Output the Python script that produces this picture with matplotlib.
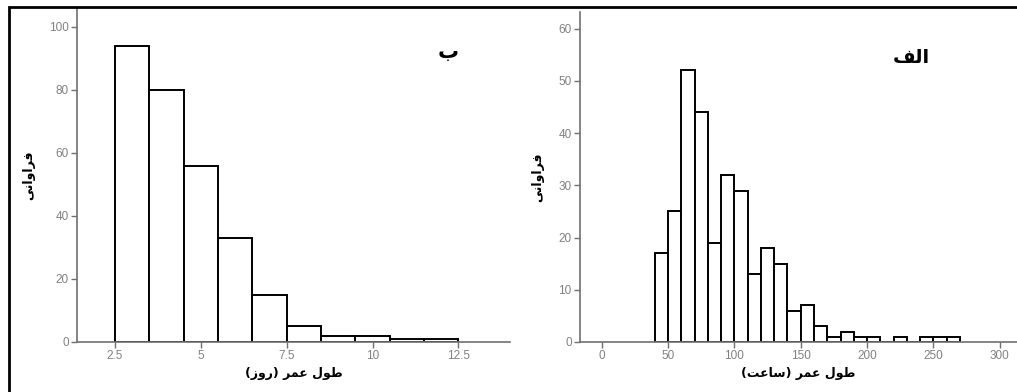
import matplotlib.pyplot as plt
import numpy as np
from matplotlib.patches import Rectangle

# Arabic text is written in presentation forms, visual (left-to-right) order,
# because matplotlib does no Arabic shaping
ylabel_txt = "\uFEF0\uFEE7\uFE8D\uFEED\uFE8D\uFEAE\uFED3"  # فراوانی
xlabel_days = "(\uFEAF\uFEED\uFEAD) \uFEAE\uFEE4\uFECB \uFEDD\uFEEE\uFEC3"  # طول عمر (روز)
xlabel_hours = "(\uFE96\uFECB\uFE8E\uFEB3) \uFEAE\uFEE4\uFECB \uFEDD\uFEEE\uFEC3"  # طول عمر (ساعت)
label_b = "\uFE8F"  # ب
label_alef = "\uFED2\uFEDF\uFE8D"  # الف

# panel b: lifetime in days
days_edges = [2.5, 3.5, 4.5, 5.5, 6.5, 7.5, 8.5, 9.5, 10.5, 11.5, 12.5]
days_counts = [94, 80, 56, 33, 15, 5, 2, 2, 1, 1]
days_ticks = [2.5, 5, 7.5, 10, 12.5]
days_ticklabels = ["2.5", "5", "7.5", "10", "12.5"]
days_yticks = [0, 20, 40, 60, 80, 100]

# panel alef: lifetime in hours
hours_edges = list(range(40, 280, 10))
hours_counts = [17, 25, 52, 44, 19, 32, 29, 13, 18, 15, 6, 7, 3, 1, 2, 1, 1, 0, 1, 0, 1, 1, 1]
hours_ticks = [0, 50, 100, 150, 200, 250, 300]
hours_yticks = [0, 10, 20, 30, 40, 50, 60]

fig = plt.figure(figsize=(10.17, 3.92), dpi=100)
fig.patch.set_facecolor("white")

axis_grey = "#707070"
tick_grey = "#808080"
arab = ["DejaVu Sans"]


def style(ax):
    for s in ["top", "right"]:
        ax.spines[s].set_visible(False)
    for s in ["left", "bottom"]:
        ax.spines[s].set_color(axis_grey)
        ax.spines[s].set_linewidth(1.2)
    ax.tick_params(direction="out", length=4, width=1, color=axis_grey,
                   labelcolor=tick_grey, labelsize=8.5, pad=2)
    for lab in ax.get_xticklabels() + ax.get_yticklabels():
        lab.set_family("Liberation Sans")


ax1 = fig.add_axes([77 / 1017, 50 / 392, 433 / 1017, 333 / 392])
ax1.hist(days_edges[:-1], bins=days_edges, weights=days_counts,
         facecolor="white", edgecolor="black", linewidth=1.4)
ax1.set_xlim(1.4, 14.0)
ax1.set_ylim(0, 105.7)
ax1.set_xticks(days_ticks)
ax1.set_xticklabels(days_ticklabels)
ax1.set_yticks(days_yticks)
style(ax1)
ax1.set_xlabel(xlabel_days, family=arab, fontsize=9, fontweight="bold", labelpad=3)
ax1.set_ylabel(ylabel_txt, family=arab, fontsize=9, fontweight="bold", labelpad=10)
ax1.text(12.2, 92, label_b, family=arab, fontsize=15, fontweight="bold",
         ha="center", va="center")

ax2 = fig.add_axes([580 / 1017, 50 / 392, 437 / 1017, 330 / 392])
ax2.hist(hours_edges[:-1], bins=hours_edges, weights=hours_counts,
         facecolor="white", edgecolor="black", linewidth=1.4)
ax2.set_xlim(-16.4, 313)
ax2.set_ylim(0, 63.2)
ax2.set_xticks(hours_ticks)
ax2.set_yticks(hours_yticks)
style(ax2)
ax2.set_xlabel(xlabel_hours, family=arab, fontsize=9, fontweight="bold", labelpad=3)
ax2.set_ylabel(ylabel_txt, family=arab, fontsize=9, fontweight="bold", labelpad=10)
ax2.text(233, 54.5, label_alef, family=arab, fontsize=14, fontweight="bold",
         ha="center", va="center")

# outer frame around the whole figure
fig.add_artist(Rectangle((9 / 1017, -0.05), 1.1, (392 - 7) / 392 + 0.05,
                         transform=fig.transFigure, fill=False,
                         edgecolor="black", linewidth=2, clip_on=False))

fig.savefig("out.png", dpi=100, facecolor="white")
